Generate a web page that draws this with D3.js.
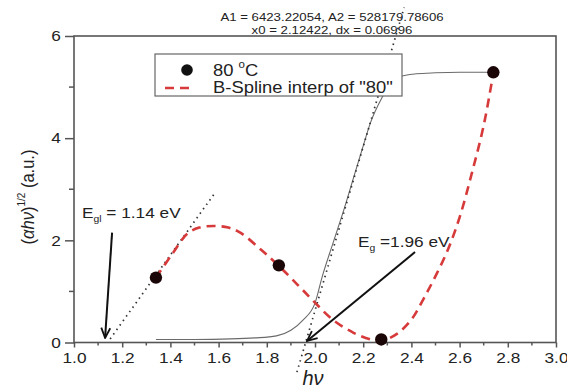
<!DOCTYPE html>
<html><head><meta charset="utf-8">
<script src="https://cdn.jsdelivr.net/npm/d3@7"></script>
<style>
html,body{margin:0;padding:0;background:#fff;}
svg{display:block;}
text{font-family:"Liberation Sans",Arial,sans-serif;fill:#222;}
</style></head>
<body>
<svg id="chart" width="567" height="391"></svg>
<script>
// ---- data ----
const pointsX = [1.34, 1.85, 2.275, 2.74];
const pointsY = [1.27, 1.51, 0.06, 5.29];

const splineX = [1.34, 1.41, 1.47, 1.52, 1.58, 1.64, 1.69, 1.78, 1.85, 1.93, 1.99, 2.07, 2.16, 2.24, 2.28, 2.34, 2.40, 2.45, 2.50, 2.55, 2.60, 2.65, 2.70, 2.74];
const splineY = [1.27, 1.75, 2.13, 2.25, 2.28, 2.25, 2.15, 1.80, 1.50, 1.12, 0.83, 0.46, 0.19, 0.05, 0.04, 0.17, 0.45, 0.85, 1.30, 1.80, 2.45, 3.30, 4.25, 5.28];

const fitX = [1.34, 1.50, 1.65, 1.75, 1.84, 1.90, 1.95, 2.00, 2.03, 2.075, 2.12, 2.166, 2.195, 2.23, 2.28, 2.31, 2.35, 2.42, 2.50, 2.60, 2.74];
const fitY = [0.06, 0.06, 0.07, 0.09, 0.13, 0.24, 0.44, 0.77, 1.29, 1.95, 2.60, 3.32, 3.77, 4.30, 4.81, 5.05, 5.20, 5.26, 5.28, 5.29, 5.29];

const tangent1X = [1.15, 1.585];
const tangent1Y = [0.07, 2.93];
const tangent2X = [1.925, 2.37];
const tangent2Y = [-0.58, 6.56];

const arrow1X = [1.158, 1.129];
const arrow1Y = [2.15, 0.09];
const arrow2X = [2.415, 1.967];
const arrow2Y = [1.77, 0.03];

const xMajorTicks = [1.0, 1.2, 1.4, 1.6, 1.8, 2.0, 2.2, 2.4, 2.6, 2.8, 3.0];
const xMinorTicks = [1.1, 1.3, 1.5, 1.7, 1.9, 2.1, 2.3, 2.5, 2.7, 2.9];
const yMajorTicks = [0, 2, 4, 6];
const yMinorTicks = [1, 3, 5];

const titleLines = ["A1 = 6423.22054, A2 = 528179.78606", "x0 = 2.12422, dx = 0.06996"];
const legendLabels = ["80 ", "B-Spline interp of \"80\""];

// ---- layout ----
const svg = d3.select("#chart");
const L = 74, R = 556, T = 36, B = 342.5;
const SX = 1.15; // horizontal text stretch seen in the reference
const x = d3.scaleLinear().domain([1, 3]).range([L, R]);
const y = d3.scaleLinear().domain([0, 6]).range([B, T]);
const axisColor = "#555";
const red = "#d63a3a";

function stext(g, px, py, size, anchor) {
  return g.append("text")
    .attr("transform", `translate(${px},${py}) scale(${SX},1)`)
    .attr("font-size", size)
    .attr("text-anchor", anchor || "start");
}

// title
titleLines.forEach((t, i) => {
  stext(svg, 332, 21 + i * 13, 11.5, "middle").text(t);
});

// frame
svg.append("rect").attr("x", L).attr("y", T).attr("width", R - L).attr("height", B - T)
  .attr("fill", "none").attr("stroke", axisColor).attr("stroke-width", 1.6);

// x axis ticks
const xAxisG = svg.append("g").attr("transform", `translate(0,${B})`);
xAxisG.call(d3.axisBottom(x).tickValues(xMajorTicks).tickSize(5).tickFormat(d3.format(".1f")));
xAxisG.select(".domain").remove();
xAxisG.selectAll("line").attr("stroke", axisColor).attr("stroke-width", 1.5);
xAxisG.selectAll("text").attr("font-size", 15).attr("fill", "#333").attr("font-family", "Liberation Sans, Arial, sans-serif")
  .attr("y", 10).attr("transform", `scale(${SX},1)`);
xAxisG.selectAll(".minor").data(xMinorTicks).enter().append("line").attr("class", "minor")
  .attr("x1", d => x(d)).attr("x2", d => x(d)).attr("y1", 0).attr("y2", 3)
  .attr("stroke", axisColor).attr("stroke-width", 1.5);

// y axis ticks
const yAxisG = svg.append("g").attr("transform", `translate(${L},0)`);
yAxisG.call(d3.axisLeft(y).tickValues(yMajorTicks).tickSize(9).tickFormat(d3.format("d")));
yAxisG.select(".domain").remove();
yAxisG.selectAll("line").attr("stroke", axisColor).attr("stroke-width", 1.5);
yAxisG.selectAll("text").attr("font-size", 15).attr("fill", "#333").attr("font-family", "Liberation Sans, Arial, sans-serif")
  .attr("x", -11.5).attr("transform", `scale(${SX},1)`);
yAxisG.selectAll(".minor").data(yMinorTicks).enter().append("line").attr("class", "minor")
  .attr("x1", -5).attr("x2", 0).attr("y1", d => y(d)).attr("y2", d => y(d))
  .attr("stroke", axisColor).attr("stroke-width", 1.5);

// y label
const yl = svg.append("text")
  .attr("transform", `translate(34,197) scale(${SX},1) rotate(-90)`)
  .attr("font-size", 16.5).attr("text-anchor", "middle");
yl.append("tspan").text("(");
yl.append("tspan").attr("font-style", "italic").text("αhν");
yl.append("tspan").text(")");
yl.append("tspan").attr("font-size", 10).attr("dy", -8).text("1/2");
yl.append("tspan").attr("dy", 8).text(" (a.u.)");

// x label
svg.append("text").attr("x", 313).attr("y", 385).attr("text-anchor", "middle")
  .attr("font-family", "Liberation Serif, Times New Roman, serif").attr("font-style", "italic")
  .attr("font-size", 20).text("hν");

// fitted curve (solid gray)
const fitLine = d3.line().x(d => x(d[0])).y(d => y(d[1])).curve(d3.curveMonotoneX);
svg.append("path").datum(fitX.map((v, i) => [v, fitY[i]]))
  .attr("d", fitLine).attr("fill", "none").attr("stroke", "#6a6a6a").attr("stroke-width", 1.1);

// tangent dotted lines
const straight = d3.line().x(d => x(d[0])).y(d => y(d[1]));
[[tangent1X, tangent1Y], [tangent2X, tangent2Y]].forEach(([xs, ys]) => {
  svg.append("path").datum(xs.map((v, i) => [v, ys[i]]))
    .attr("d", straight).attr("fill", "none").attr("stroke", "#333")
    .attr("stroke-width", 1.7).attr("stroke-dasharray", "1.5,4").attr("stroke-linecap", "butt");
});

// B-spline dashed red
const splineLine = d3.line().x(d => x(d[0])).y(d => y(d[1])).curve(d3.curveCatmullRom.alpha(0.5));
svg.append("path").datum(splineX.map((v, i) => [v, splineY[i]]))
  .attr("d", splineLine).attr("fill", "none").attr("stroke", red)
  .attr("stroke-width", 2.6).attr("stroke-dasharray", "9,6");

// data points
svg.selectAll(".pt").data(pointsX.map((v, i) => [v, pointsY[i]])).enter().append("circle")
  .attr("class", "pt").attr("cx", d => x(d[0])).attr("cy", d => y(d[1])).attr("r", 6.2)
  .attr("fill", "#1a0606");

// arrows
const defs = svg.append("defs");
defs.append("marker").attr("id", "ah").attr("viewBox", "0 0 12 12").attr("refX", 11).attr("refY", 6)
  .attr("markerWidth", 12).attr("markerHeight", 12).attr("markerUnits", "userSpaceOnUse").attr("orient", "auto")
  .append("path").attr("d", "M1,1.5 L11,6 L1,10.5").attr("fill", "none").attr("stroke", "#111").attr("stroke-width", 1.8);
[[arrow1X, arrow1Y], [arrow2X, arrow2Y]].forEach(([xs, ys]) => {
  svg.append("line").attr("x1", x(xs[0])).attr("y1", y(ys[0])).attr("x2", x(xs[1])).attr("y2", y(ys[1]))
    .attr("stroke", "#111").attr("stroke-width", 2).attr("marker-end", "url(#ah)");
});

// annotations
const a1 = stext(svg, 82, 218, 15);
a1.append("tspan").text("E");
a1.append("tspan").attr("font-size", 9).attr("dy", 4).text("gl");
a1.append("tspan").attr("dy", -4).text(" = 1.14 eV");
const a2 = stext(svg, 358, 247, 15);
a2.append("tspan").text("E");
a2.append("tspan").attr("font-size", 9).attr("dy", 4).text("g");
a2.append("tspan").attr("dy", -4).text(" =1.96 eV");

// legend
const lg = svg.append("g");
lg.append("rect").attr("x", 155).attr("y", 54).attr("width", 247).attr("height", 42)
  .attr("fill", "#fff").attr("stroke", "#666").attr("stroke-width", 1.2);
lg.append("circle").attr("cx", 187).attr("cy", 70).attr("r", 5.8).attr("fill", "#111");
const l1 = stext(lg, 213, 76, 16);
l1.append("tspan").text(legendLabels[0]);
l1.append("tspan").attr("font-size", 10).attr("dy", -8).text("o");
l1.append("tspan").attr("dy", 8).text("C");
lg.append("line").attr("x1", 165).attr("x2", 195).attr("y1", 88).attr("y2", 88)
  .attr("stroke", red).attr("stroke-width", 2.4).attr("stroke-dasharray", "9,6");
stext(lg, 213, 93, 16).text(legendLabels[1]);
</script>
</body></html>
